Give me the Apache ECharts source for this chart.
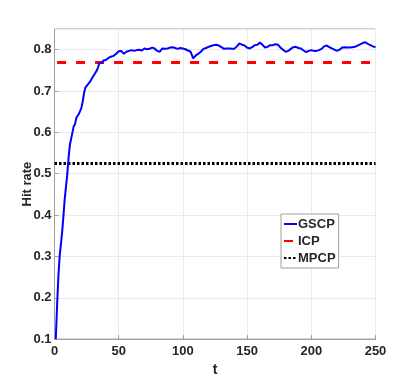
<!DOCTYPE html>
<html><head><meta charset="utf-8">
<script src="https://cdn.jsdelivr.net/npm/echarts@6/dist/echarts.min.js"></script>
<style>html,body{margin:0;padding:0;background:#fff}#c{width:415px;height:382px}</style>
</head><body><div id="c"></div>
<script>
var gscpT = [1,2,3,4,5,6,7,8,9,10,11,12,13,14,15,16,17,18,19,20,21,22,23,24,25,26,27,28,29,30,31,32,33,34,35,36,37,38,40,42,44,46,48,50,52,54,56,58,60,62,64,66,68,70,72,74,76,78,80,82,84,86,88,90,92,94,96,98,100,102,104,106,108,110,112,114,116,118,120,122,124,126,128,130,132,134,136,138,140,142,144,146,148,150,152,154,156,158,160,162,164,166,168,170,172,174,176,178,180,182,184,186,188,190,192,194,196,198,200,202,204,206,208,210,212,214,216,218,220,222,224,226,228,230,232,234,236,238,240,242,244,246,248,250];
var gscpV = [0.1,0.18,0.25,0.3,0.33,0.36,0.4,0.44,0.47,0.5,0.54,0.57,0.585,0.6,0.615,0.62,0.635,0.64,0.645,0.652,0.66,0.675,0.695,0.708,0.712,0.716,0.72,0.724,0.728,0.735,0.74,0.745,0.75,0.758,0.768,0.772,0.768,0.774,0.775,0.78,0.783,0.785,0.79,0.796,0.797,0.79,0.795,0.797,0.799,0.797,0.799,0.8,0.798,0.803,0.801,0.802,0.805,0.803,0.797,0.795,0.803,0.802,0.803,0.805,0.806,0.804,0.802,0.804,0.803,0.801,0.798,0.795,0.779,0.786,0.79,0.795,0.802,0.804,0.807,0.809,0.811,0.812,0.81,0.806,0.802,0.803,0.803,0.802,0.802,0.808,0.815,0.812,0.81,0.805,0.803,0.806,0.811,0.812,0.817,0.812,0.805,0.807,0.811,0.811,0.813,0.812,0.805,0.8,0.795,0.797,0.802,0.806,0.807,0.804,0.803,0.798,0.794,0.797,0.799,0.797,0.797,0.799,0.802,0.808,0.81,0.806,0.803,0.8,0.797,0.8,0.805,0.806,0.805,0.805,0.806,0.807,0.81,0.813,0.816,0.818,0.814,0.811,0.808,0.806,0.809,0.811];
var icpValue = 0.769;
var mpcpValue = 0.525;
var xTicks = [0,50,100,150,200,250];
var yTicks = [0.1,0.2,0.3,0.4,0.5,0.6,0.7,0.8];

var gscpData = gscpT.map(function(t,i){return [t,gscpV[i]];});
var chart = echarts.init(document.getElementById('c'), null, {renderer:'canvas'});
var fontFam = '"Liberation Sans", Arial, sans-serif';
chart.setOption({
  animation:false,
  backgroundColor:'#fff',
  grid:{left:54.5,right:39.5,top:29,bottom:42,show:true,borderColor:'#a0a0a0',borderWidth:1,backgroundColor:'transparent'},
  xAxis:{type:'value',min:0,max:250,interval:50,
    name:'t',nameLocation:'middle',nameGap:22,
    nameTextStyle:{color:'#262626',fontSize:14,fontWeight:'bold',fontFamily:fontFam},
    axisLine:{show:true,lineStyle:{color:'#a0a0a0',width:1}},
    axisTick:{show:true,inside:true,length:4,lineStyle:{color:'#a0a0a0'}},
    axisLabel:{color:'#262626',fontSize:13,fontWeight:'bold',fontFamily:fontFam,margin:6},
    splitLine:{show:true,lineStyle:{color:'#ebebeb',width:1}}},
  yAxis:{type:'value',min:0.1,max:0.85,interval:0.1,
    name:'Hit rate',nameLocation:'middle',nameGap:21,nameMoveOverlap:false,
    nameTextStyle:{color:'#262626',fontSize:13,fontWeight:'bold',fontFamily:fontFam},
    axisLine:{show:true,lineStyle:{color:'#a0a0a0',width:1}},
    axisTick:{show:true,inside:true,length:4,lineStyle:{color:'#a0a0a0'}},
    axisLabel:{color:'#262626',fontSize:13,fontWeight:'bold',fontFamily:fontFam,margin:3,showMaxLabel:false,
      formatter:function(v){return yTicks.indexOf(Math.round(v*10)/10)>=0?(Math.round(v*10)/10).toFixed(1):'';}},
    splitLine:{show:true,lineStyle:{color:'#ebebeb',width:1}}},
  legend:{orient:'vertical',left:281,top:214,padding:[3,3,3,2],itemGap:3,itemWidth:13,itemHeight:11,
    borderColor:'#a0a0a0',borderWidth:1,backgroundColor:'#fff',
    itemStyle:{opacity:0},
    textStyle:{color:'#262626',fontSize:13,lineHeight:14,fontWeight:'bold',fontFamily:fontFam,padding:[0,0,0,-4]},
    data:['GSCP','ICP','MPCP']},
  series:[
    {name:'GSCP',type:'line',data:gscpData,showSymbol:false,symbol:'none',lineStyle:{color:'#0000ff',width:2},itemStyle:{color:'#0000ff'},z:3},
    {name:'ICP',type:'line',data:[[2,icpValue],[248,icpValue]],showSymbol:false,symbol:'none',lineStyle:{color:'#ff0000',width:3,type:[9,10]},itemStyle:{color:'#ff0000'},z:2},
    {name:'MPCP',type:'line',data:[[0,mpcpValue],[250,mpcpValue]],showSymbol:false,symbol:'none',lineStyle:{color:'#000000',width:3,type:[2.5,2]},itemStyle:{color:'#000'},z:2}
  ]
});
</script></body></html>
